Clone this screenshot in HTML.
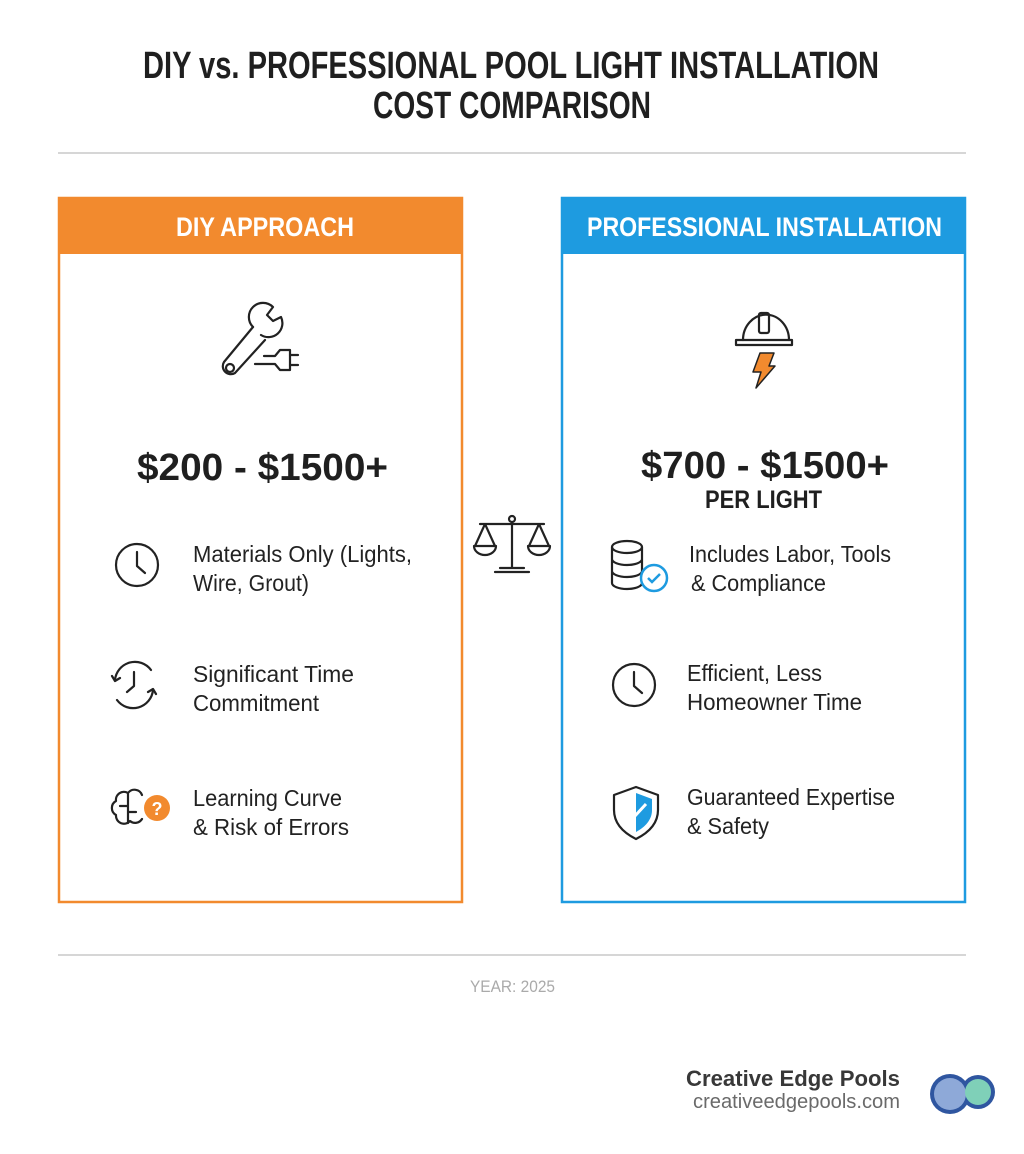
<!DOCTYPE html>
<html><head><meta charset="utf-8"><style>body{margin:0;background:#fff}svg{display:block}</style></head><body>
<svg width="1024" height="1154" viewBox="0 0 1024 1154" font-family="Liberation Sans, sans-serif">
<rect width="1024" height="1154" fill="#fff"/>
<g font-weight="bold" fill="#1f1f1f" font-size="38">
<text x="143" y="78" textLength="736" lengthAdjust="spacingAndGlyphs">DIY vs. PROFESSIONAL POOL LIGHT INSTALLATION</text>
<text x="373" y="118" textLength="278" lengthAdjust="spacingAndGlyphs">COST COMPARISON</text>
</g>
<line x1="58" y1="153" x2="966" y2="153" stroke="#d6d6d6" stroke-width="2"/>
<line x1="58" y1="955" x2="966" y2="955" stroke="#d6d6d6" stroke-width="2"/>
<rect x="59" y="198" width="403" height="704" fill="none" stroke="#F28A2E" stroke-width="2.5"/>
<rect x="58" y="197" width="405" height="57" fill="#F28A2E"/>
<rect x="562" y="198" width="403" height="704" fill="none" stroke="#1E9BE0" stroke-width="2.5"/>
<rect x="561" y="197" width="405" height="57" fill="#1E9BE0"/>
<g font-weight="bold" fill="#fff" font-size="27">
<text x="176" y="236" textLength="178" lengthAdjust="spacingAndGlyphs">DIY APPROACH</text>
<text x="587" y="236" textLength="355" lengthAdjust="spacingAndGlyphs">PROFESSIONAL INSTALLATION</text>
</g>
<g font-weight="bold" fill="#1f1f1f">
<text x="137" y="480" font-size="38" textLength="251" lengthAdjust="spacingAndGlyphs">$200 - $1500+</text>
<text x="641" y="478" font-size="38" textLength="248" lengthAdjust="spacingAndGlyphs">$700 - $1500+</text>
<text x="705" y="508" font-size="25" textLength="117" lengthAdjust="spacingAndGlyphs">PER LIGHT</text>
</g>
<g fill="#222" font-size="23">
<text x="193" y="562" textLength="219" lengthAdjust="spacingAndGlyphs">Materials Only (Lights,</text>
<text x="193" y="591" textLength="116" lengthAdjust="spacingAndGlyphs">Wire, Grout)</text>
<text x="193" y="682" textLength="161" lengthAdjust="spacingAndGlyphs">Significant Time</text>
<text x="193" y="711" textLength="126" lengthAdjust="spacingAndGlyphs">Commitment</text>
<text x="193" y="806" textLength="149" lengthAdjust="spacingAndGlyphs">Learning Curve</text>
<text x="193" y="835" textLength="156" lengthAdjust="spacingAndGlyphs">&amp; Risk of Errors</text>
<text x="689" y="562" textLength="202" lengthAdjust="spacingAndGlyphs">Includes Labor, Tools</text>
<text x="691" y="591" textLength="135" lengthAdjust="spacingAndGlyphs">&amp; Compliance</text>
<text x="687" y="681" textLength="135" lengthAdjust="spacingAndGlyphs">Efficient, Less</text>
<text x="687" y="710" textLength="175" lengthAdjust="spacingAndGlyphs">Homeowner Time</text>
<text x="687" y="805" textLength="208" lengthAdjust="spacingAndGlyphs">Guaranteed Expertise</text>
<text x="687" y="834" textLength="82" lengthAdjust="spacingAndGlyphs">&amp; Safety</text>
</g>
<text x="470" y="992" font-size="17" fill="#aaa" textLength="85" lengthAdjust="spacingAndGlyphs">YEAR: 2025</text>
<text x="686" y="1086" font-size="22" font-weight="bold" fill="#383838" textLength="214" lengthAdjust="spacingAndGlyphs">Creative Edge Pools</text>
<text x="693" y="1108" font-size="20" fill="#6a6a6a" textLength="207" lengthAdjust="spacingAndGlyphs">creativeedgepools.com</text>
<g>
<circle cx="950" cy="1094" r="20" fill="#2f56a0"/>
<circle cx="978" cy="1092" r="17" fill="#2f56a0"/>
<rect x="950" y="1082" width="28" height="22" fill="#2f56a0"/>
<circle cx="950" cy="1094" r="16" fill="#8ea9d8"/>
<circle cx="978" cy="1092" r="13" fill="#7fd0b8"/>
</g>
<g fill="none" stroke="#222" stroke-width="2.2" stroke-linecap="round" stroke-linejoin="round">
<path d="M253 327 L224 362 a8 8 0 0 0 11 11 L265 340"/>
<circle cx="230" cy="368" r="4"/>
<path d="M253 327 a14 14 0 0 1 20 -20 l-6 8 l6 6 l8 -4 a14 14 0 0 1 -20 18"/>
<path d="M255 364 h20 l5 6 h10 v-20 h-10 l-5 6 h-11"/>
<path d="M290 355 h8 M290 365 h8"/>
<circle cx="137" cy="565" r="21"/><path d="M137 552 v14 l8 7"/>
<circle cx="634" cy="685" r="21"/><path d="M634 672 v14 l8 7"/>
<path d="M115 680 a20 20 0 0 1 36 -10 M153 690 a20 20 0 0 1 -36 10"/>
<path d="M112 676 l3 5 l5 -3 M156 694 l-3 -5 l-5 3"/><path d="M134 672 v14 l-7 6"/>
<path d="M142 795 a8 8 0 0 0 -14 -2 a8 8 0 0 0 -12 8 a8 8 0 0 0 0 14 a8 8 0 0 0 14 6 a8 8 0 0 0 12 -2 M128 793 v30 M120 806 h8 M128 812 h8"/>
<ellipse cx="627" cy="547" rx="15" ry="6"/>
<path d="M612 547 v36 a15 6 0 0 0 30 0 v-36 M612 559 a15 6 0 0 0 30 0 M612 571 a15 6 0 0 0 30 0"/>
<path d="M636 787 l22 8 v15 c0 14 -10 23 -22 29 c-12 -6 -22 -15 -22 -29 v-15 z"/>
<!-- helmet -->
<path d="M743 340 a20 22 0 0 1 46 0"/>
<path d="M736 340 h56 v5 h-56 z"/>
<rect x="759" y="313" width="10" height="20" rx="2"/>
<path d="M512 520 v48 M500 568 h24 M495 572 h34 M480 524 h64 M485 524 l-10 22 M485 524 l10 22 M539 524 l-10 22 M539 524 l10 22 M474 546 a11 9 0 0 0 22 0 z M528 546 a11 9 0 0 0 22 0 z"/>
<circle cx="512" cy="519" r="3" fill="#fff"/>
</g>
<circle cx="157" cy="808" r="13" fill="#F28A2E"/>
<text x="157" y="815" font-size="18" font-weight="bold" fill="#fff" text-anchor="middle">?</text>
<circle cx="654" cy="578" r="13" fill="#fff" stroke="#1E9BE0" stroke-width="2.5"/>
<path d="M648 578 l4 4 l8 -8" fill="none" stroke="#1E9BE0" stroke-width="2.5"/>
<path d="M636 793 l16 6 v11 c0 10 -7 17 -16 22 z" fill="#1E9BE0"/>
<path d="M627 810 l7 7 l12 -13" fill="none" stroke="#fff" stroke-width="3"/>
<path d="M760 353 h14 l-5 13 h6 l-19 22 l5 -16 h-8 z" fill="#F28A2E" stroke="#222" stroke-width="1.5" stroke-linejoin="round"/>
</svg>
</body></html>
